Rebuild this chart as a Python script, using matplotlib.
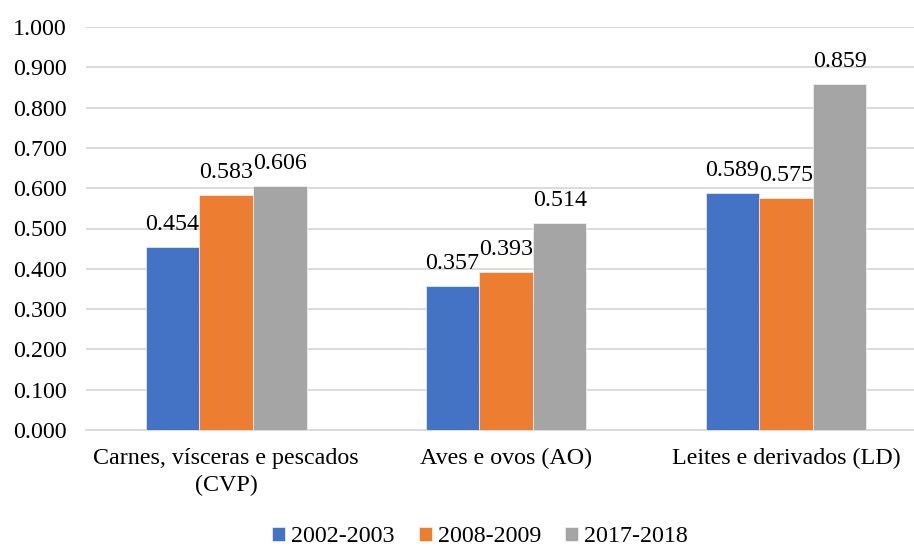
import matplotlib
matplotlib.use("Agg")
import matplotlib.pyplot as plt
import numpy as np

categories = ["Carnes, vísceras e pescados\n(CVP)", "Aves e ovos (AO)", "Leites e derivados (LD)"]
series_names = ["2002-2003", "2008-2009", "2017-2018"]
values_2002 = [0.454, 0.357, 0.589]
values_2008 = [0.583, 0.393, 0.575]
values_2017 = [0.606, 0.514, 0.859]
yticks = [0.0, 0.1, 0.2, 0.3, 0.4, 0.5, 0.6, 0.7, 0.8, 0.9, 1.0]
colors = ["#4472C4", "#ED7D31", "#A5A5A5"]

plt.rcParams['font.family'] = ['Liberation Serif', 'DejaVu Serif']
FS = 17.3

W, H = 914, 547
fig = plt.figure(figsize=(W / 100, H / 100), dpi=100)
left, right = 86, 926
bottom, top = 430, 27
ax = fig.add_axes([left / W, 1 - bottom / H, (right - left) / W, (bottom - top) / H])

x = np.arange(len(categories))
bw = 0.575 / 3
all_vals = [values_2002, values_2008, values_2017]
for i, (name, vals, c) in enumerate(zip(series_names, all_vals, colors)):
    pos = x + (i - 1) * bw
    ax.bar(pos, vals, width=bw, color=c, label=name, zorder=3,
           edgecolor="white", linewidth=0.4)
    for p, v in zip(pos, vals):
        ax.text(p, v + 0.03, f"{v:.3f}", ha="center", va="bottom", fontsize=FS, color="#000000")

ax.set_xlim(-0.5, len(categories) - 0.5)
ax.set_ylim(0, 1.0)
ax.set_yticks(yticks)
ax.set_yticklabels([f"{t:.3f}" for t in yticks], fontsize=FS)
ax.set_xticks(x)
ax.set_xticklabels(categories, fontsize=FS, linespacing=1.35)
ax.tick_params(axis="y", length=0, pad=14)
ax.tick_params(axis="x", length=0, pad=13)
ax.yaxis.grid(True, color="#D9D9D9", linewidth=1.3, zorder=0)
ax.set_axisbelow(True)
for s in ["top", "right", "left"]:
    ax.spines[s].set_visible(False)
ax.spines["bottom"].set_color("#D9D9D9")
ax.spines["bottom"].set_linewidth(1.3)

fig.legend(loc="center", bbox_to_anchor=(480 / W, 1 - 537 / H), ncol=3, frameon=False,
           fontsize=FS, handlelength=0.55, handleheight=0.55, handletextpad=0.25,
           columnspacing=1.0)

fig.savefig("out.png", dpi=100)
